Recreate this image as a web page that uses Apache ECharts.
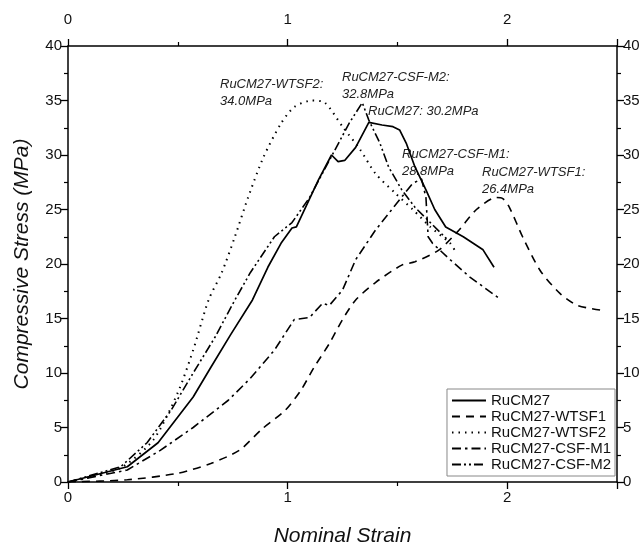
<!DOCTYPE html>
<html><head><meta charset="utf-8">
<script src="https://cdn.jsdelivr.net/npm/echarts@6/dist/echarts.min.js"></script>
<style>html,body{margin:0;padding:0;background:#fff}#c{width:644px;height:548px}</style>
</head><body><div id="c"></div>
<script>
const seriesNames = ['RuCM27','RuCM27-WTSF1','RuCM27-WTSF2','RuCM27-CSF-M1','RuCM27-CSF-M2'];
const xTicks = [0,1,2];
const yTicks = [0,5,10,15,20,25,30,35,40];

const ruStrain = [0,0.27,0.41,0.57,0.65,0.74,0.84,0.91,0.97,1.02,1.04,1.14,1.20,1.23,1.26,1.31,1.37,1.43,1.48,1.51,1.54,1.58,1.63,1.67,1.72,1.80,1.89,1.94];
const ruStress = [0,1.4,3.6,7.8,10.5,13.5,16.7,19.7,21.9,23.3,23.4,27.7,30.0,29.4,29.5,30.7,33.0,32.75,32.6,32.3,31.1,28.9,26.8,25.0,23.4,22.5,21.3,19.7];

const w1Strain = [0,0.27,0.50,0.65,0.78,0.88,0.99,1.06,1.12,1.19,1.25,1.31,1.40,1.52,1.58,1.69,1.78,1.86,1.95,1.98,2.01,2.07,2.15,2.24,2.32,2.45];
const w1Stress = [0,0.2,0.8,1.7,2.9,4.8,6.6,8.4,10.5,12.7,14.9,16.7,18.3,19.9,20.2,21.3,23.1,25.0,26.1,26.0,25.2,22.5,19.4,17.3,16.2,15.7];

const w2Strain = [0,0.24,0.39,0.50,0.57,0.64,0.70,0.76,0.82,0.89,0.97,1.03,1.11,1.17,1.25,1.33,1.40,1.49,1.57,1.65,1.74,1.76];
const w2Stress = [0,1.3,3.9,8.2,12.1,16.7,19.2,22.5,26.1,29.8,32.9,34.4,35.0,34.8,32.6,30.5,28.3,26.5,25.0,23.4,21.9,21.3];

const m1Strain = [0,0.27,0.42,0.57,0.73,0.83,0.94,1.03,1.10,1.16,1.19,1.25,1.31,1.40,1.51,1.57,1.61,1.63,1.64,1.66,1.74,1.83,1.96];
const m1Stress = [0,1.1,2.9,5.0,7.5,9.5,12.1,14.9,15.1,16.4,16.2,17.6,20.4,23.1,25.9,27.4,27.8,26.1,22.5,21.9,20.4,18.8,16.9];

const m2Strain = [0,0.24,0.36,0.47,0.57,0.67,0.76,0.83,0.94,1.02,1.10,1.19,1.28,1.34,1.37,1.42,1.46,1.52,1.58,1.66,1.73];
const m2Stress = [0,1.4,3.6,6.6,10.0,13.3,16.7,19.2,22.5,23.8,26.1,29.5,32.9,34.8,33.2,31.1,28.9,26.8,25.2,23.6,22.2];

const annoTexts = ['RuCM27-WTSF2:\n34.0MPa','RuCM27-CSF-M2:\n32.8MPa','RuCM27: 30.2MPa','RuCM27-CSF-M1:\n28.8MPa','RuCM27-WTSF1:\n26.4MPa'];

const zip = (a,b) => a.map((v,i)=>[v,b[i]]);
const FONT = '"Liberation Sans", Arial, sans-serif';
const chart = echarts.init(document.getElementById('c'), null, {renderer:'canvas'});

const lineStyles = [
  {type:'solid', width:1.7},
  {type:[8,6], width:1.6},
  {type:[1.5,5], width:2},
  {type:[9,4,2.5,4], width:1.6},
  {type:[9,3,2,3,2,3], width:1.6}
];
const smoothing = [false, 0.25, 0.25, false, false];
const dataSets = [zip(ruStrain,ruStress), zip(w1Strain,w1Stress), zip(w2Strain,w2Stress), zip(m1Strain,m1Stress), zip(m2Strain,m2Stress)];

const axisCommon = {
  axisLine:{show:true, onZero:false, lineStyle:{color:'#000', width:1.5}},
  axisTick:{show:true, inside:false, length:7, lineStyle:{color:'#000', width:1.3}},
  minorTick:{show:true, splitNumber:2, length:4, lineStyle:{color:'#000', width:1.2}},
  splitLine:{show:false},
  axisLabel:{color:'#111', fontSize:15, fontFamily:FONT, margin:6}
};
const xLab = v => (xTicks.indexOf(v) >= 0 ? String(v) : '');
const yLab = v => (yTicks.indexOf(v) >= 0 ? String(v) : '');

const annoStyle = {fontSize:13, fontStyle:'italic', fontFamily:FONT, fill:'#222', lineHeight:17};
const annoPos = [[220,76],[342,69],[368,103],[402,146],[482,164]];

chart.setOption({
  animation:false,
  backgroundColor:'#fff',
  grid:{left:68, right:27, top:46, bottom:66, containLabel:false, outerBoundsMode:'none'},
  xAxis:[
    Object.assign({}, axisCommon, {type:'value', position:'bottom', min:0, max:2.5, interval:1,
      axisLabel:Object.assign({}, axisCommon.axisLabel, {formatter:xLab, margin:8}),
      name:'Nominal Strain', nameLocation:'middle', nameGap:44,
      nameTextStyle:{fontSize:21, fontStyle:'italic', fontFamily:FONT, color:'#111'}}),
    Object.assign({}, axisCommon, {type:'value', position:'top', min:0, max:2.5, interval:1,
      axisLabel:Object.assign({}, axisCommon.axisLabel, {formatter:xLab, margin:19})})
  ],
  yAxis:[
    Object.assign({}, axisCommon, {type:'value', position:'left', min:0, max:40, interval:5,
      axisLabel:Object.assign({}, axisCommon.axisLabel, {formatter:yLab}),
      name:'Compressive Stress (MPa)', nameLocation:'middle', nameGap:35, nameRotate:90,
      nameTextStyle:{fontSize:21, fontStyle:'italic', fontFamily:FONT, color:'#111'}}),
    Object.assign({}, axisCommon, {type:'value', position:'right', min:0, max:40, interval:5,
      axisLabel:Object.assign({}, axisCommon.axisLabel, {formatter:yLab})})
  ],
  legend:{
    data:seriesNames, orient:'vertical', right:29, bottom:72,
    itemWidth:34, itemHeight:14, itemGap:1,
    padding:[4,4,4,4],
    borderColor:'#888', borderWidth:1, backgroundColor:'#fff',
    itemStyle:{opacity:0},
    textStyle:{fontSize:15, fontFamily:FONT, color:'#111'}
  },
  series: seriesNames.map((n,i)=>({
    name:n, type:'line', data:dataSets[i], symbol:'none', smooth:smoothing[i],
    xAxisIndex:0, yAxisIndex:0,
    lineStyle:Object.assign({color:'#000'}, lineStyles[i]),
    itemStyle:{color:'#000'}
  })),
  graphic: annoTexts.map((t,i)=>({type:'text', left:annoPos[i][0], top:annoPos[i][1], style:Object.assign({text:t}, annoStyle)}))
});
</script></body></html>
